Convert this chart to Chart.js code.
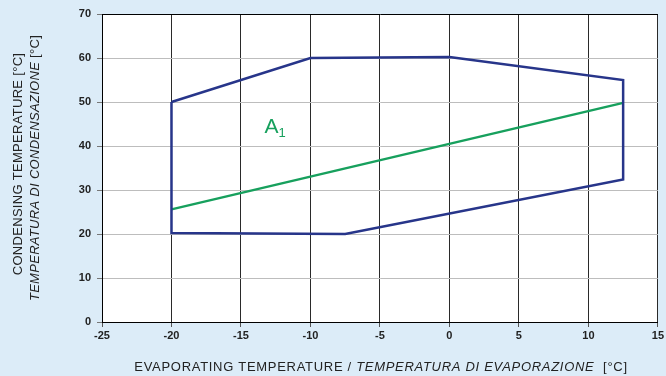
<!DOCTYPE html>
<html lang="en">
<head>
  <meta charset="UTF-8">
  <title>Operating envelope</title>
  <script src="https://cdn.jsdelivr.net/npm/chart.js"></script>
  <style>
    body {
      margin: 0;
      padding: 0;
      background-color: #dcecf8;
    }
    .wrap {
      width: 666px;
      height: 376px;
    }
  </style>
</head>
<body>
  <div class="wrap">
    <canvas id="envelopeChart" width="666" height="376"></canvas>
  </div>

  <script>
    // Envelope outline (evaporating / condensing, °C), closed
    const envelopeX = [-20, -10, 0, 12.5, 12.5, -7.5, -20, -20];
    const envelopeY = [50, 60, 60.2, 55, 32.4, 20, 20.2, 50];

    // Green line A1
    const lineX = [-20, 12.5];
    const lineY = [25.6, 49.8];

    const xTicks = [-25, -20, -15, -10, -5, 0, 5, 10, 15];
    const yTicks = [0, 10, 20, 30, 40, 50, 60, 70];

    const areaLabel = { text: 'A', sub: '1', x: -12.8, y: 44.3 };

    const toPoints = (xs, ys) => xs.map((x, i) => ({ x: x, y: ys[i] }));

    // Draws the axis titles (mixed upright / italic) and the A1 label
    const textPlugin = {
      id: 'textPlugin',
      beforeDraw(chart) {
        const ctx = chart.ctx;
        ctx.save();
        ctx.fillStyle = '#ffffff';
        const a = chart.chartArea;
        ctx.fillRect(a.left, a.top, a.right - a.left, a.bottom - a.top);
        ctx.restore();
      },
      afterDraw(chart) {
        const ctx = chart.ctx;
        const xs = chart.scales.x, ys = chart.scales.y;
        const normal = '13px "Liberation Sans", Arial, sans-serif';
        const italic = 'italic 13px "Liberation Sans", Arial, sans-serif';
        ctx.save();
        ctx.fillStyle = '#222';
        ctx.textBaseline = 'middle';

        // draw a row of [text, font] parts centred at (cx, cy)
        const drawParts = (parts, cx, cy, spacing) => {
          ctx.letterSpacing = spacing + 'px';
          let total = 0;
          parts.forEach(p => { ctx.font = p[1]; total += ctx.measureText(p[0]).width; });
          let x = cx - total / 2;
          ctx.textAlign = 'left';
          parts.forEach(p => {
            ctx.font = p[1];
            ctx.fillText(p[0], x, cy);
            x += ctx.measureText(p[0]).width;
          });
          ctx.letterSpacing = '0px';
        };

        // x title
        drawParts([
          ['EVAPORATING TEMPERATURE / ', normal],
          ['TEMPERATURA DI EVAPORAZIONE', italic],
          ['  [°C]', normal]
        ], 381, 367, 0.7);

        // y title, two rotated lines
        ctx.save();
        ctx.translate(18, 164);
        ctx.rotate(-Math.PI / 2);
        drawParts([['CONDENSING TEMPERATURE [°C]', normal]], 0, 0, 0.3);
        ctx.restore();
        ctx.save();
        ctx.translate(35, 168);
        ctx.rotate(-Math.PI / 2);
        drawParts([
          ['TEMPERATURA DI CONDENSAZIONE', italic],
          [' [°C]', normal]
        ], 0, 0, 0.3);
        ctx.restore();

        // A1 label
        const px = xs.getPixelForValue(areaLabel.x);
        const py = ys.getPixelForValue(areaLabel.y);
        ctx.fillStyle = '#17a05d';
        ctx.font = '21px "Liberation Sans", Arial, sans-serif';
        ctx.textAlign = 'center';
        ctx.fillText(areaLabel.text, px, py);
        const w = ctx.measureText(areaLabel.text).width;
        ctx.font = '13px "Liberation Sans", Arial, sans-serif';
        ctx.textAlign = 'left';
        ctx.fillText(areaLabel.sub, px + w / 2, py + 6);
        ctx.restore();
      }
    };

    const tickFont = { family: '"Liberation Sans", Arial, sans-serif', size: 11, weight: 'bold' };

    new Chart(document.getElementById('envelopeChart').getContext('2d'), {
      type: 'scatter',
      data: {
        datasets: [
          {
            data: toPoints(envelopeX, envelopeY),
            showLine: true,
            borderColor: '#27358a',
            borderWidth: 2.5,
            pointRadius: 0,
            fill: false,
            tension: 0
          },
          {
            data: toPoints(lineX, lineY),
            showLine: true,
            borderColor: '#17a05d',
            borderWidth: 2.5,
            pointRadius: 0,
            fill: false
          }
        ]
      },
      options: {
        responsive: false,
        animation: false,
        layout: { padding: { left: 58, top: 14, right: 8, bottom: 0 } },
        plugins: {
          legend: { display: false },
          tooltip: { enabled: false }
        },
        scales: {
          x: {
            type: 'linear',
            min: -25,
            max: 15,
            afterBuildTicks: (s) => { s.ticks = xTicks.map(v => ({ value: v })); },
            afterFit: (s) => { s.height = 54; },
            ticks: { color: '#222', font: tickFont, padding: 2 },
            grid: {
              color: '#2a2a2a',
              lineWidth: 1,
              tickLength: 5,
              tickColor: '#555'
            },
            border: { color: '#000', width: 1 }
          },
          y: {
            type: 'linear',
            min: 0,
            max: 70,
            afterBuildTicks: (s) => { s.ticks = yTicks.map(v => ({ value: v })); },
            afterFit: (s) => { s.width = 44; },
            ticks: { color: '#222', font: tickFont, padding: 6 },
            grid: {
              color: (c) => c.tick && c.tick.value === 70 ? '#000' : '#bdbdbd',
              lineWidth: 1,
              tickLength: 5,
              tickColor: '#777'
            },
            border: { color: '#000', width: 1 }
          }
        }
      },
      plugins: [textPlugin]
    });
  </script>
</body>
</html>
